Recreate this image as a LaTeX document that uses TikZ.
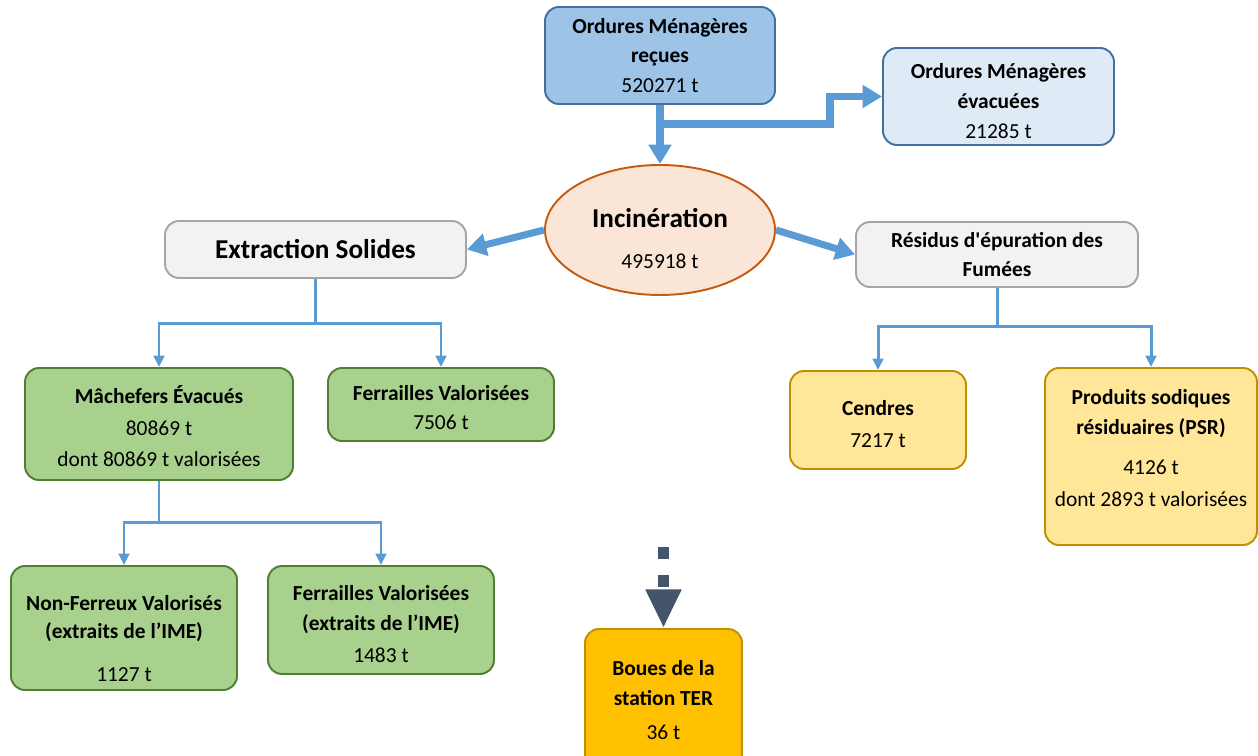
\documentclass[tikz,border=0pt]{standalone}
\usepackage{fontspec}
\setmainfont{Carlito}[Ligatures=TeXOff]
\usetikzlibrary{arrows.meta,shapes.geometric}

\definecolor{recublue}{HTML}{9DC3E6}
\definecolor{evacblue}{HTML}{DEEBF7}
\definecolor{bluedge}{HTML}{41719C}
\definecolor{incfill}{HTML}{FBE5D6}
\definecolor{incedge}{HTML}{C55A11}
\definecolor{greyfill}{HTML}{F2F2F2}
\definecolor{greyedge}{HTML}{A5A5A5}
\definecolor{greenfill}{HTML}{A9D18E}
\definecolor{greenedge}{HTML}{507E32}
\definecolor{yellowfill}{HTML}{FFE699}
\definecolor{goldedge}{HTML}{BF9000}
\definecolor{boueorange}{HTML}{FFC000}
\definecolor{flowblue}{HTML}{5B9BD5}
\definecolor{slate}{HTML}{44546A}

\def\pxu{0.02cm}
\newcommand{\bodyfont}{\fontsize{12.2}{17}\selectfont}
\newcommand{\bigfont}{\fontsize{15.5}{19}\selectfont}
\newcommand{\lift}[1]{\rule{0pt}{#1}}

\tikzset{
    box/.style={draw, rounded corners=14*\pxu, align=center, inner sep=0pt, line width=1.1pt, font=\bodyfont},
    bluebox/.style={box, fill=recublue, draw=bluedge},
    lightbox/.style={box, fill=evacblue, draw=bluedge},
    greybox/.style={box, fill=greyfill, draw=greyedge},
    greenbox/.style={box, fill=greenfill, draw=greenedge},
    yellowbox/.style={box, fill=yellowfill, draw=goldedge},
    bouebox/.style={box, fill=boueorange, draw=goldedge},
    thickflow/.style={draw=flowblue, line width=4pt, line join=miter, -{Triangle[width=12.5pt,length=11pt]}},
    thinflow/.style={draw=flowblue, line width=1.7pt, -{Triangle[width=6pt,length=6.5pt]}},
    terflow/.style={draw=slate, line width=6.8pt, dash pattern=on 6.8pt off 9.1pt, -{Triangle[width=19pt,length=22pt]}}
}

\begin{document}
\begin{tikzpicture}[x=0.02cm, y=-0.02cm]
    \useasboundingbox (0,0) rectangle (1258,756);

    % Top: waste received and waste sent away
    \node[bluebox, minimum width=230*\pxu, minimum height=97*\pxu] (recues) at (660,55.5)
        {\textbf{Ordures Ménagères}\\ \textbf{reçues}\\ 520271 t};
    \node[lightbox, minimum width=231*\pxu, minimum height=97*\pxu] (evac) at (998.5,96.5)
        {\lift{14pt}\textbf{Ordures Ménagères}\\ \textbf{évacuées}\\ 21285 t};

    % Incineration
    \node[ellipse, draw=incedge, fill=incfill, line width=1.1pt, minimum width=230*\pxu, minimum height=130*\pxu,
          inner sep=0pt, align=center, font=\bodyfont] (incin) at (660,230)
        {{\bigfont\lift{20.5pt}\textbf{Incinération}}\\[6pt] 495918 t};

    % Second level
    \node[greybox, minimum width=301*\pxu, minimum height=57*\pxu] (extr) at (315.5,249.5)
        {\bigfont\textbf{Extraction Solides}};
    \node[greybox, minimum width=282*\pxu, minimum height=65*\pxu] (resid) at (997,254.5)
        {\textbf{Résidus d'épuration des}\\ \textbf{Fumées}};

    % Solids
    \node[greenbox, minimum width=268*\pxu, minimum height=112*\pxu] (mach) at (159,424)
        {\lift{13pt}\textbf{Mâchefers Évacués}\\[1pt] 80869 t\\[1pt] dont 80869 t valorisées};
    \node[greenbox, minimum width=226*\pxu, minimum height=73*\pxu] (ferr) at (441,404.5)
        {\lift{12pt}\textbf{Ferrailles Valorisées}\\ 7506 t};
    \node[greenbox, minimum width=226*\pxu, minimum height=124*\pxu] (nonfer) at (124,628)
        {\lift{21pt}\textbf{Non-Ferreux Valorisés}\\[-1.5pt] \textbf{(extraits de l’IME)}\\[8pt] 1127 t};
    \node[greenbox, minimum width=226*\pxu, minimum height=108*\pxu] (ferrime) at (381,620)
        {\lift{13pt}\textbf{Ferrailles Valorisées}\\ \textbf{(extraits de l’IME)}\\[1pt] 1483 t};

    % Fumes residues
    \node[yellowbox, minimum width=176*\pxu, minimum height=98*\pxu] (cendres) at (878,420)
        {\lift{13pt}\textbf{Cendres}\\[1pt] 7217 t};
    \node[yellowbox, minimum width=212*\pxu, minimum height=177*\pxu] (psr) at (1151,456.5)
        {\textbf{Produits sodiques}\\ \textbf{résiduaires (PSR)}\\[6pt] 4126 t\\[1pt] dont 2893 t valorisées\\[-12pt]\strut};

    % Sludge
    \node[bouebox, minimum width=157*\pxu, minimum height=142*\pxu] (boues) at (663.5,700)
        {\textbf{Boues de la}\\ \textbf{station TER}\\[2pt] 36 t};

    % Thick flows
    \coordinate (split) at (660,124);
    \coordinate (bend) at (830,110);
    \draw[thickflow] (recues.south) -- (incin.north);
    \draw[thickflow] (split) -| (bend) |- (evac.west);
    \draw[thickflow] (incin.west) -- (extr.east);
    \draw[thickflow] (incin.east) -- (resid.west);

    % Thin branches
    \draw[thinflow] (extr.south) -- ++(0,45) -| (mach.north);
    \draw[thinflow] (extr.south) -- ++(0,45) -| (ferr.north);
    \draw[thinflow] (resid.south) -- ++(0,39) -| (cendres.north);
    \draw[thinflow] (resid.south) -- ++(0,39) -| (psr.north);
    \draw[thinflow] (mach.south) -- ++(0,42) -| (nonfer.north);
    \draw[thinflow] (mach.south) -- ++(0,42) -| (ferrime.north);

    % Incoming sludge
    \coordinate (terin) at (663.5,547);
    \draw[terflow] (terin) -- (boues.north);
\end{tikzpicture}
\end{document}
